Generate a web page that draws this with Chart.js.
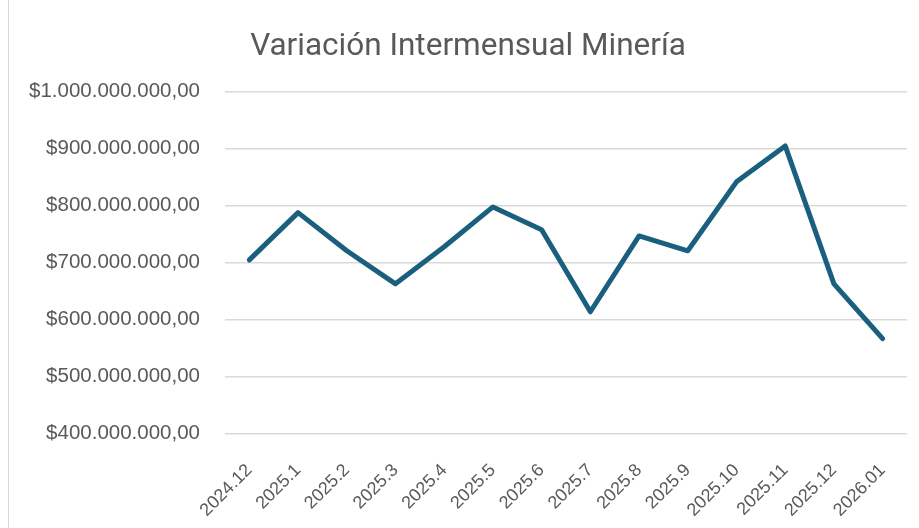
<!DOCTYPE html>
<html>
<head>
<meta charset="utf-8">
<script src="https://cdn.jsdelivr.net/npm/chart.js@4.4.1/dist/chart.umd.min.js"></script>
<style>
  html, body { margin: 0; padding: 0; background: #fff; }
  #wrap { position: absolute; left: 8px; top: 0; width: 911px; height: 528px; border-left: 1px solid #d9d9d9; }
</style>
</head>
<body>
<div id="wrap"><canvas id="myChart"></canvas></div>
<script>
const labels = ['2024.12', '2025.1', '2025.2', '2025.3', '2025.4', '2025.5', '2025.6',
  '2025.7', '2025.8', '2025.9', '2025.10', '2025.11', '2025.12', '2026.01']

const valores = [705000000, 788000000, 721000000, 663000000, 728000000, 798000000, 758000000,
  614000000, 747000000, 721000000, 842000000, 905000000, 663000000, 567000000]

const yMin = 400000000
const yMax = 1000000000
const yStep = 100000000

function formatoPesos(v) {
  const entero = Math.round(v).toString().replace(/\B(?=(\d{3})+(?!\d))/g, '.')
  return '$' + entero + ',00'
}

const ctx = document.getElementById('myChart').getContext('2d')

const data = {
  labels: labels,
  datasets: [{
    label: 'Minería',
    data: valores,
    borderColor: '#1b5f7f',
    backgroundColor: '#1b5f7f',
    borderWidth: 5,
    pointRadius: 0,
    tension: 0,
    borderJoinStyle: 'round',
    borderCapStyle: 'round'
  }]
}

const xPad = 18
const yPad = 25

const options = {
  responsive: false,
  animation: false,
  layout: { padding: { left: 20, right: 12, top: 12, bottom: 7 } },
  plugins: {
    legend: { display: false },
    tooltip: { enabled: false },
    title: {
      display: true,
      text: 'Variación Intermensual Minería',
      color: '#595959',
      font: { family: 'Roboto', size: 31.5, weight: 'normal' },
      padding: { top: 16, bottom: 26 }
    }
  },
  scales: {
    x: {
      offset: true,
      grid: { display: false },
      border: { display: false },
      // chart.js cuenta el padding dos veces; las etiquetas giradas pueden invadir la zona del eje y
      afterFit: s => { s.height -= xPad; s.paddingLeft = 0; s.paddingRight = 0 },
      ticks: {
        color: '#595959',
        font: { family: 'Liberation Sans', size: 18 },
        minRotation: 45,
        maxRotation: 45,
        padding: xPad,
        autoSkip: false
      }
    },
    y: {
      min: yMin,
      max: yMax,
      grid: { color: '#d9d9d9', lineWidth: 1.5, drawTicks: false },
      border: { display: false },
      afterFit: s => { s.width -= yPad },
      ticks: {
        stepSize: yStep,
        color: '#595959',
        font: { family: 'Liberation Sans', size: 20.5 },
        padding: yPad,
        callback: v => formatoPesos(v)
      }
    }
  }
}

const canvas = document.getElementById('myChart')
canvas.width = 910
canvas.height = 528

const myChart = new Chart(ctx, {
  type: 'line',
  data: data,
  options: options
})
</script>
</body>
</html>
